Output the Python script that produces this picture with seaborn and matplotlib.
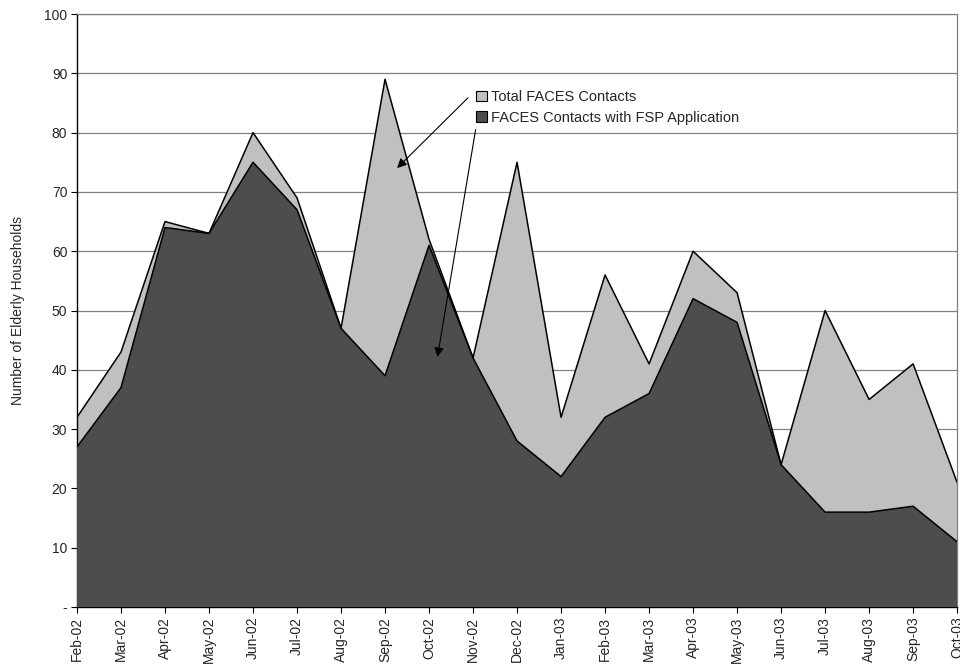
import seaborn as sns
import matplotlib.pyplot as plt
import pandas as pd
import numpy as np

# Monthly data
months = ['Feb-02', 'Mar-02', 'Apr-02', 'May-02', 'Jun-02', 'Jul-02', 'Aug-02',
          'Sep-02', 'Oct-02', 'Nov-02', 'Dec-02', 'Jan-03', 'Feb-03', 'Mar-03',
          'Apr-03', 'May-03', 'Jun-03', 'Jul-03', 'Aug-03', 'Sep-03', 'Oct-03']
total_contacts = [32, 43, 65, 63, 80, 69, 47, 89, 62, 42, 75, 32, 56, 41,
                  60, 53, 24, 50, 35, 41, 21]
fsp_contacts = [27, 37, 64, 63, 75, 67, 47, 39, 61, 42, 28, 22, 32, 36,
                52, 48, 24, 16, 16, 17, 11]

df = pd.DataFrame({'month': months, 'total': total_contacts, 'fsp': fsp_contacts})
df['pos'] = np.arange(len(df))

sns.set_style("white")
plt.rcParams['font.family'] = ['Liberation Sans', 'DejaVu Sans']

fig = plt.figure(figsize=(9.6, 6.68), dpi=100)
ax = fig.add_axes([0.0802, 0.0913, 0.9168, 0.8877])

# gridlines behind the areas
for yv in range(10, 101, 10):
    ax.axhline(yv, color='#808080', lw=0.9, zorder=0)

ax.fill_between(df['pos'], df['total'], color='#c0c0c0', zorder=1, edgecolor='none')
sns.lineplot(data=df, x='pos', y='total', color='black', lw=1.1, ax=ax, zorder=2,
             legend=False)
ax.fill_between(df['pos'], df['fsp'], color='#4d4d4d', zorder=3, edgecolor='none')
sns.lineplot(data=df, x='pos', y='fsp', color='black', lw=1.1, ax=ax, zorder=4,
             legend=False)

ax.set_xlim(0, len(months) - 1)
ax.set_ylim(0, 100)
ax.set_xticks(df['pos'])
ax.set_xticklabels(months, rotation=90, fontsize=10)
ax.set_yticks(range(0, 101, 10))
ax.set_yticklabels(['-'] + [str(v) for v in range(10, 101, 10)], fontsize=10)
ax.set_xlabel('')
ax.set_ylabel('Number of Elderly Households', fontsize=10, labelpad=14)
ax.tick_params(axis='both', direction='out', length=4, width=0.8, color='black',
               bottom=True, left=True, pad=3)

for side in ['top', 'right']:
    ax.spines[side].set_color('#808080')
    ax.spines[side].set_linewidth(0.9)
for side in ['left', 'bottom']:
    ax.spines[side].set_color('black')
    ax.spines[side].set_linewidth(1.0)

# legend with square markers
handles = [plt.Rectangle((0, 0), 1, 1, facecolor='#c0c0c0', edgecolor='black', lw=0.8),
           plt.Rectangle((0, 0), 1, 1, facecolor='#4d4d4d', edgecolor='black', lw=0.8)]
fig.legend(handles, ['Total FACES Contacts', 'FACES Contacts with FSP Application'],
           loc='upper left', bbox_to_anchor=(476 / 960, 1 - 90 / 668), frameon=False,
           fontsize=10.5, handlelength=0.75, handleheight=0.75, handletextpad=0.3,
           labelspacing=0.45, borderpad=0, borderaxespad=0)

# arrows from legend to areas
ax.annotate('', xy=(7.23, 73.7), xytext=(8.93, 86.2),
            arrowprops=dict(arrowstyle='-|>', color='black', lw=0.8, mutation_scale=14),
            zorder=6)
ax.annotate('', xy=(8.18, 41.7), xytext=(9.07, 81.0),
            arrowprops=dict(arrowstyle='-|>', color='black', lw=0.8, mutation_scale=14),
            zorder=6)

fig.savefig('out.png', dpi=100)
